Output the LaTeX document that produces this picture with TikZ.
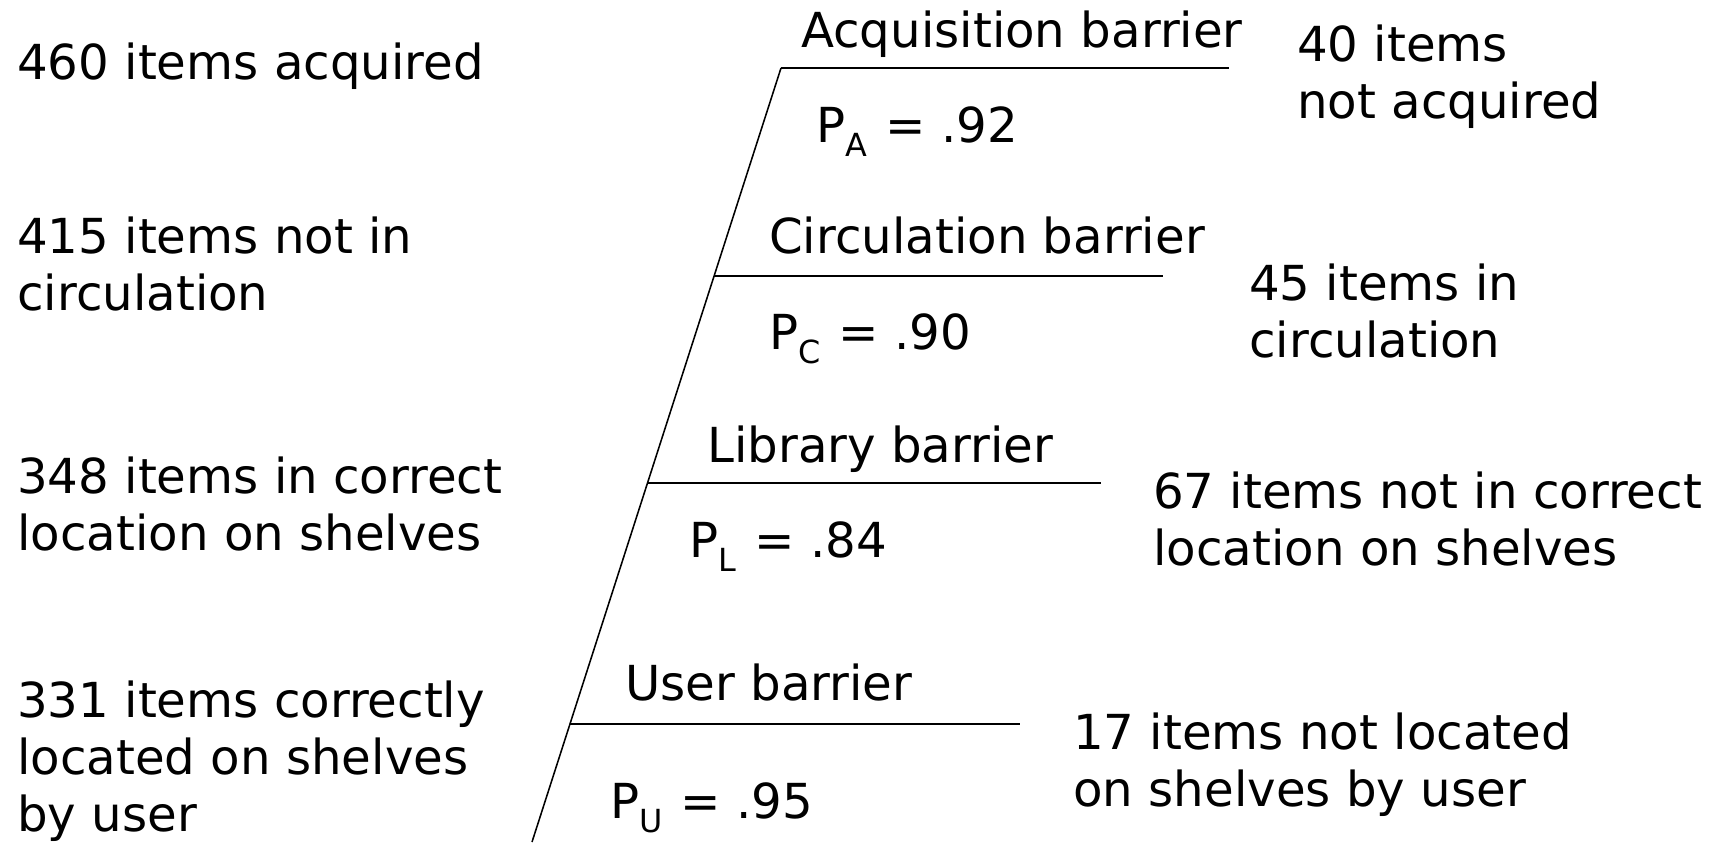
\documentclass[tikz,border=0pt]{standalone}
\usepackage{fontspec}
\setmainfont{DejaVu Sans}
\newcommand{\psub}[1]{P\raisebox{-0.3em}{\scalebox{0.66}{#1}}}

\begin{document}
\begin{tikzpicture}[x=0.025cm,y=-0.025cm,
    every node/.style={inner sep=0,anchor=base west,align=left,
      font=\fontsize{34.3pt}{40.2pt}\selectfont},
    bar/.style={line width=1.1pt}]
  \useasboundingbox (0,0) rectangle (1720,842);

  % slanted edge and the four barriers
  \coordinate (top) at (781,68);
  \coordinate (bot) at (532,842);
  \coordinate (c1) at (714,276);
  \coordinate (l1) at (648,483);
  \coordinate (u1) at (570,724);
  \coordinate (a2) at (1229,68);
  \coordinate (c2) at (1163,276);
  \coordinate (l2) at (1101,483);
  \coordinate (u2) at (1020,724);

  \draw[bar] (top) -- (bot);
  \draw[bar] (top) -- (a2);
  \draw[bar] (c1) -- (c2);
  \draw[bar] (l1) -- (l2);
  \draw[bar] (u1) -- (u2);

  % barrier names and probabilities
  \node (acq) at (801,47) {Acquisition barrier};
  \node (pa) at (816,142) {\psub{A}\hspace{.06em} = .92};
  \node (circ) at (769,253) {Circulation barrier};
  \node (pc) at (769,349) {\psub{C}\hspace{.06em} = .90};
  \node (lib) at (707,462) {Library barrier};
  \node (pl) at (689,557) {\psub{L}\hspace{.06em} = .84};
  \node (user) at (625,700) {User barrier};
  \node (pu) at (610,818) {\psub{U}\hspace{.06em} = .95};

  % items passing (anchored at the last line)
  \node (in1) at (17,79.5) {460 items acquired};
  \node (in2) at (17,310) {415 items not in\\circulation};
  \node (in3) at (17,550) {348 items in correct\\location on shelves};
  \node (in4) at (17,831) {331 items correctly\\located on shelves\\by user};

  % items lost
  \node (out1) at (1297,118) {40 items\\not acquired};
  \node (out2) at (1249,357) {45 items in\\circulation};
  \node (out3) at (1153,565) {67 items not in correct\\location on shelves};
  \node (out4) at (1073,806) {17 items not located\\on shelves by user};
\end{tikzpicture}
\end{document}
